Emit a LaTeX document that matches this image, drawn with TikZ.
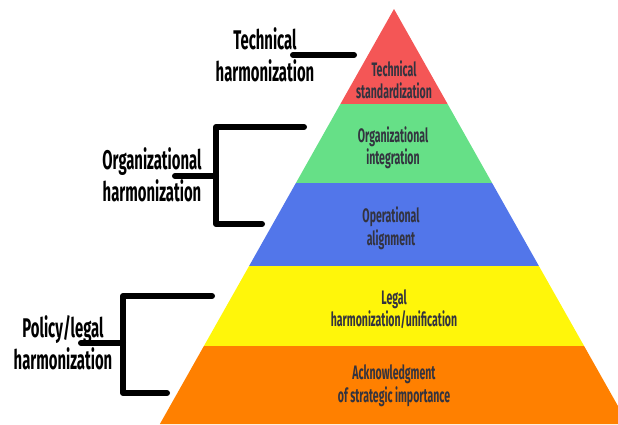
\documentclass[tikz,border=0pt]{standalone}
\usepackage{fontspec}
\setmainfont{Fira Sans}
\newfontfamily\sidefont{Fira Sans}[FakeStretch=0.55]
\newfontfamily\layerfont{Fira Sans}[FakeStretch=0.54]
\definecolor{lred}{HTML}{F45656}
\definecolor{lgreen}{HTML}{66E087}
\definecolor{lblue}{HTML}{5276EA}
\definecolor{lyellow}{HTML}{FFF60A}
\definecolor{lorange}{HTML}{FF8000}
\definecolor{ltext}{HTML}{33333F}
\tikzset{
  layertext/.style={align=center,text=ltext,font=\layerfont\bfseries\fontsize{19.5}{22.5}\selectfont,inner sep=0pt},
  sidetext/.style={align=center,text=black,font=\sidefont\bfseries\fontsize{27}{32}\selectfont,inner sep=0pt},
  brace/.style={line width=6pt,line cap=round,line join=round,black}
}
\begin{document}
\begin{tikzpicture}[x=1pt,y=-1pt]
\useasboundingbox (0,0) rectangle (618,424);
\begin{scope}
\clip (0,0) rectangle (618,424);
\fill[lred] (394,9) -- (447.6,104) -- (340.4,104) -- cycle;
\fill[lgreen] (340.4,104) -- (447.6,104) -- (492.1,183) -- (295.9,183) -- cycle;
\fill[lblue] (295.9,183) -- (492.1,183) -- (538.9,266) -- (249.1,266) -- cycle;
\fill[lyellow] (249.1,266) -- (538.9,266) -- (584.1,346) -- (203.9,346) -- cycle;
\fill[lorange] (203.9,346) -- (584.1,346) -- (628.1,424) -- (159.9,424) -- cycle;
\end{scope}
% layer texts
\node[layertext] (t1) at (394,80) {Technical\\standardization};
\node[layertext] (t2) at (393,148) {Organizational\\integration};
\node[layertext] (t3) at (391,228) {Operational\\alignment};
\node[layertext] (t4) at (394,309) {Legal\\harmonization/unification};
\node[layertext] (t5) at (394,386) {Acknowledgment\\of strategic importance};
% side labels
\node[sidetext] (s1) at (265,55) {Technical\\harmonization};
\node[sidetext] (s2) at (152,175) {Organizational\\harmonization};
\node[sidetext] (s3) at (63,343) {Policy/legal\\harmonization};
% brackets
\coordinate (c1a) at (293,55);
\coordinate (c1b) at (354,55);
\draw[brace] (c1a) -- (c1b);
\coordinate (c2m) at (175,176);
\coordinate (c2v) at (216,176);
\coordinate (c2t) at (304,127);
\coordinate (c2b) at (262,224);
\draw[brace] (c2t) -- (c2v |- c2t) -- (c2v |- c2b) -- (c2b);
\draw[brace] (c2m) -- (c2v);
\coordinate (c3m) at (81,343);
\coordinate (c3v) at (123,343);
\coordinate (c3t) at (212,296);
\coordinate (c3b) at (167,393);
\draw[brace] (c3t) -- (c3v |- c3t) -- (c3v |- c3b) -- (c3b);
\draw[brace] (c3m) -- (c3v);
\end{tikzpicture}
\end{document}
